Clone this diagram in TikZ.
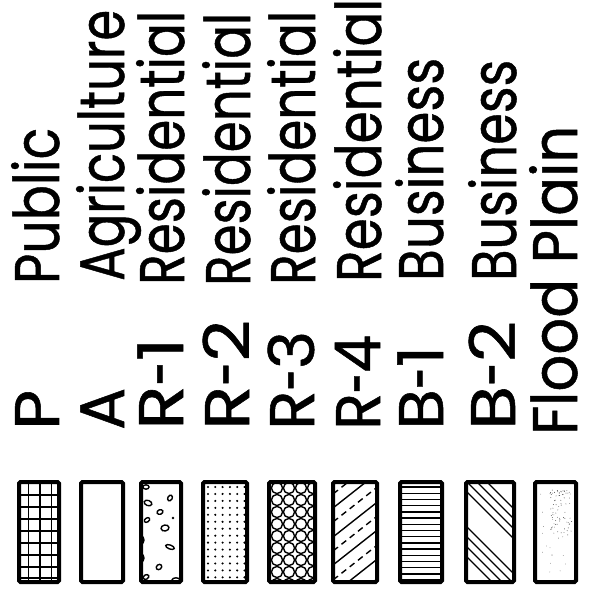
\documentclass[tikz,border=0pt]{standalone}
\usepackage{fontspec}
\setmainfont{Poppins}
\newfontfamily\labfont[FakeBold=0.8]{Poppins}
\usepackage{graphicx}
\begin{document}
\begin{tikzpicture}[x=1pt,y={(0pt,-1pt)},
  lab/.style={rotate=90,anchor=base west,inner sep=0pt,text depth=0pt,font=\labfont\fontsize{63}{63}\selectfont},
  frame/.style={line width=4pt,rounded corners=1.5pt},
  pat/.style={line width=1.4pt}]
\useasboundingbox (0,0) rectangle (591,598);
\newcommand\labwd[2]{\resizebox{#1pt}{\height}{#2}}
\newcommand\hy{\scalebox{0.6}[1]{-}}
% codes
\node[lab] (c1) at (59,430) {\labwd{40}{P}};
\node[lab] (c2) at (124,430) {\labwd{42}{A}};
\node[lab] (c3) at (183,430) {\labwd{92}{R\hy 1}};
\node[lab] (c4) at (249,430) {\labwd{110}{R\hy 2}};
\node[lab] (c5) at (314,430) {\labwd{99}{R\hy 3}};
\node[lab] (c6) at (380,430) {\labwd{95}{R\hy 4}};
\node[lab] (c7) at (443,430) {\labwd{84}{B\hy 1}};
\node[lab] (c8) at (515,430) {\labwd{109}{B\hy 2}};
% names
\node[lab] (n1) at (59,284) {\labwd{156}{Public}};
\node[lab] (n2) at (124,281) {\labwd{271}{Agriculture}};
\node[lab] (n3) at (184,285) {\labwd{274}{Residential}};
\node[lab] (n4) at (250,286) {\labwd{273}{Residential}};
\node[lab] (n5) at (315,285) {\labwd{274}{Residential}};
\node[lab] (n6) at (381,282) {\labwd{283}{Residential}};
\node[lab] (n7) at (443,281) {\labwd{223}{Business}};
\node[lab] (n8) at (516,281) {\labwd{221}{Business}};
\node[lab] (n9) at (577,435) {\labwd{309}{Flood Plain}};
% box 1 grid
\begin{scope}
\clip (19,482) rectangle (59,582);
\foreach \x in {28.3,40,51.7} \draw[pat] (\x,480) -- (\x,584);
\foreach \y in {495,507,519,531,543,555,567,578} \draw[pat] (17,\y) -- (61,\y);
\end{scope}
\draw[frame] (19,482) rectangle (59,582);
% box 2
\draw[frame] (81,482) rectangle (123,582);
% box 3 ovals
\begin{scope}
\clip (141,482) rectangle (181,582);
\draw[pat] (148,503) ellipse [x radius=4,y radius=2.6,rotate=-20];
\draw[pat] (170,498) ellipse [x radius=3,y radius=2.2,rotate=60];
\draw[pat] (160,512) ellipse [x radius=3,y radius=2.3,rotate=20];
\draw[pat] (147,520) ellipse [x radius=3,y radius=2,rotate=35];
\fill (173,518) circle (1.3);
\draw[pat] (165,528) ellipse [x radius=4,y radius=3,rotate=10];
\draw[pat] (170,547) ellipse [x radius=4.5,y radius=2,rotate=-20];
\draw[pat] (141,540) ellipse [x radius=3,y radius=4];
\draw[pat] (141,558) ellipse [x radius=3,y radius=4];
\draw[pat] (159,567) ellipse [x radius=3,y radius=2.4,rotate=40];
\draw[pat] (146,577) ellipse [x radius=3,y radius=2.2,rotate=30];
\draw[pat] (146,487) ellipse [x radius=3,y radius=2.2];
\draw[pat] (176,580) ellipse [x radius=4,y radius=2.2];
\end{scope}
\draw[frame] (141,482) rectangle (181,582);
% box 4 dots
\foreach \i in {0,...,5} \foreach \j in {0,...,13}
  \fill (208+7.3*\i,487+6.95*\j) circle (1.15);
\draw[frame] (203,482) rectangle (247,582);
% box 5 circles
\begin{scope}
\clip (269,482) rectangle (315,582);
\foreach \i in {0,...,4} \foreach \j in {0,...,8}
  \draw[pat] (265+12*\i,488+12*\j) circle (5.6);
\end{scope}
\draw[frame] (269,482) rectangle (315,582);
% box 6 diagonal solid and dashed
\begin{scope}
\clip (333,482) rectangle (377,582);
\foreach \c in {480,508,537,565,594} \draw[pat] (325,\c+6.3) -- (385,\c-41);
\foreach \c in {494,522,551,580} \draw[pat,dash pattern=on 6pt off 4.5pt] (325,\c+6.3) -- (385,\c-41);
\end{scope}
\draw[frame] (333,482) rectangle (377,582);
% box 7 horizontal lines
\begin{scope}
\clip (400,482) rectangle (442,582);
\foreach \j in {0,...,15} \draw[pat] (398,487+6.2*\j) -- (444,487+6.2*\j);
\end{scope}
\draw[frame] (400,482) rectangle (442,582);
% box 8 groups of diagonal lines
\begin{scope}
\clip (466,482) rectangle (514,582);
\foreach \c in {460,470,480,490,525,535,545,555} \draw[pat] (455,\c-10) -- (525,\c+60);
\end{scope}
\draw[frame] (466,482) rectangle (514,582);
% box 9 speckles
\begin{scope}
\clip (537,484) rectangle (574,580);
\pgfmathsetseed{7}
\foreach \k in {1,...,70} {
  \pgfmathsetmacro\px{550+22*rnd}
  \pgfmathsetmacro\py{490+45*rnd^1.5}
  \fill[black!70] (\px,\py) circle (0.45);
}
\foreach \k in {1,...,25} {
  \pgfmathsetmacro\px{540+32*rnd}
  \pgfmathsetmacro\py{490+85*rnd}
  \fill[black!55] (\px,\py) circle (0.4);
}
\end{scope}
\draw[frame] (535,482) rectangle (576,582);
\end{tikzpicture}
\end{document}
